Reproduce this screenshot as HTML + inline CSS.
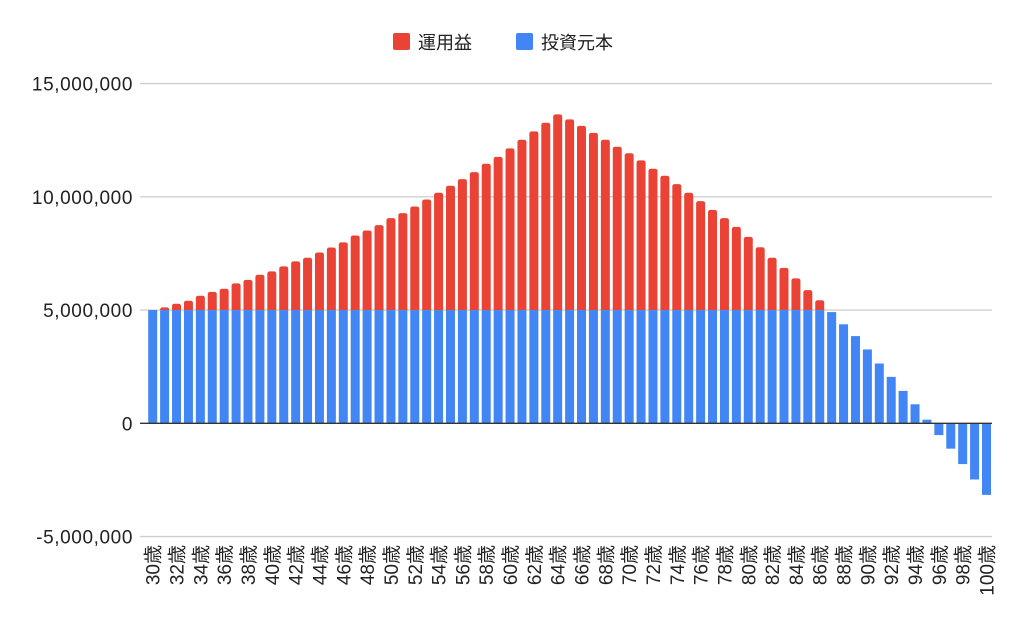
<!DOCTYPE html>
<html><head><meta charset="utf-8"><style>
body{margin:0;background:#fff;}
svg{display:block;font-family:"Liberation Sans","Noto Sans CJK JP",sans-serif;}
</style></head><body>
<svg id="chart" width="1024" height="633" viewBox="0 0 1024 633">
<g>
<rect x="393" y="33" width="17" height="17" rx="2" fill="#ea4335"/>
<text x="418" y="49" font-size="18" fill="#222">運用益</text>
<rect x="516" y="33" width="17" height="17" rx="2" fill="#4285f4"/>
<text x="541" y="49" font-size="18" fill="#222">投資元本</text>
</g>
<g id="grid"></g><g id="bars"></g><g id="axes"></g>
</svg>
<script>
const ages = [];
for (let a = 30; a <= 100; a++) ages.push(a);
const totals = [5.0,5.12,5.28,5.41,5.63,5.80,5.94,6.18,6.33,6.56,6.71,6.93,7.15,7.31,7.54,7.76,7.99,8.29,8.51,8.75,9.06,9.28,9.57,9.88,10.18,10.49,10.78,11.09,11.46,11.76,12.14,12.52,12.89,13.27,13.64,13.42,13.13,12.82,12.52,12.21,11.92,11.61,11.24,10.93,10.56,10.18,9.81,9.42,9.06,8.67,8.23,7.77,7.31,6.86,6.40,5.88,5.43,4.91,4.37,3.85,3.26,2.64,2.05,1.43,0.84,0.16,-0.52,-1.12,-1.80,-2.48,-3.16];
const principal = totals.map(t => Math.min(t, 5.0));
const profit = totals.map(t => Math.max(t - 5.0, 0));
const yTicks = [15, 10, 5, 0, -5];
const yTickLabels = ["15,000,000","10,000,000","5,000,000","0","-5,000,000"];

const NS = "http://www.w3.org/2000/svg";
const y0 = 423.3, pxPerM = 22.65;
const yS = v => y0 - v * pxPerM;
const x0 = 152.7, step = (986.5 - 152.7) / 70;
const xS = i => x0 + i * step;
const bw = 9;
function mk(tag, attrs, parent) {
  const e = document.createElementNS(NS, tag);
  for (const k in attrs) e.setAttribute(k, attrs[k]);
  parent.appendChild(e);
  return e;
}
const grid = document.getElementById("grid"), bars = document.getElementById("bars"), axes = document.getElementById("axes");
yTicks.forEach((t, i) => {
  if (t !== 0) {
    const l = mk("line", {x1: 140, x2: 992, y1: yS(t), y2: yS(t), stroke: "#d0d0d0", "stroke-width": 1.3}, grid);
    
    
  }
  const tx = mk("text", {x: 133, y: yS(t) + 7, "text-anchor": "end", "font-size": 19, "letter-spacing": 0.6, fill: "#222"}, axes);
  tx.textContent = yTickLabels[i];
  
  
});
totals.forEach((t, i) => {
  const cx = xS(i), p = principal[i];
  const top = Math.min(yS(p), y0), h = Math.abs(yS(p) - y0);
  const b = mk("rect", {x: cx - bw / 2, y: top, width: bw, height: h, fill: "#4285f4"}, bars);
  
  
  if (profit[i] > 0) {
    const yt = yS(p + profit[i]), yb = yS(p), r = 2.5;
    const d = `M${cx - bw/2},${yb} L${cx - bw/2},${yt + r} Q${cx - bw/2},${yt} ${cx - bw/2 + r},${yt} L${cx + bw/2 - r},${yt} Q${cx + bw/2},${yt} ${cx + bw/2},${yt + r} L${cx + bw/2},${yb} Z`;
    const pr = mk("path", {d: d, fill: "#ea4335"}, bars);
    
    
  }
  if (i % 2 === 0) {
    const lx = cx + 7;
    const tx = mk("text", {x: lx, y: 545, transform: `rotate(-90 ${lx} 545)`, "text-anchor": "end", "font-size": 19, fill: "#222"}, axes);
    tx.textContent = ages[i] + "歳";
    
    
  }
});
const z = mk("line", {x1: 140, x2: 992, y1: y0, y2: y0, stroke: "#333", "stroke-width": 1.3}, axes);


</script>
</body></html>
